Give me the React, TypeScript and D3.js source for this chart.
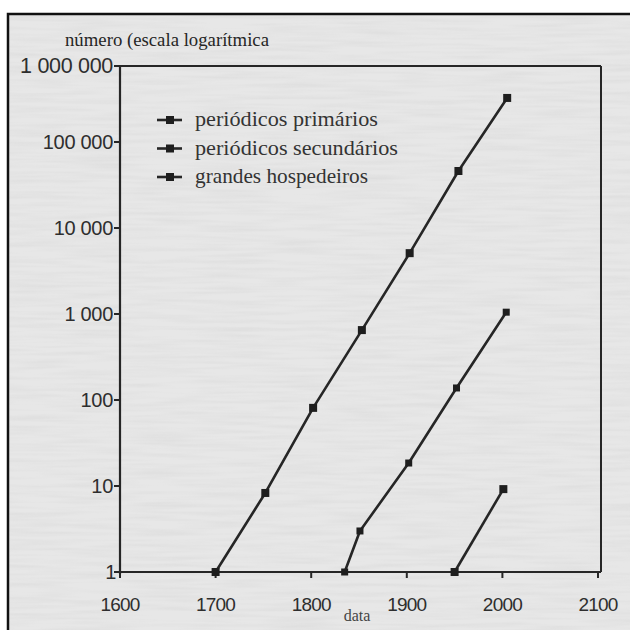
import React from "react";
import * as d3 from "d3";

const yearsPrimarios = [1700, 1752, 1802, 1853, 1903, 1954, 2005];
const primarios = [1, 8.3, 81, 650, 5100, 46000, 380000];
const yearsSecundarios = [1835, 1851, 1902, 1952, 2004];
const secundarios = [1, 3.0, 18.5, 138, 1050];
const yearsHospedeiros = [1950, 2001];
const hospedeiros = [1, 9.2];

const xTicks = [1600, 1700, 1800, 1900, 2000, 2100];
const yTickValues = [1, 10, 100, 1000, 10000, 100000, 1000000];
const yTickLabels = ["1", "10", "100", "1 000", "10 000", "100 000", "1 000 000"];
const legendLabels = ["periódicos primários", "periódicos secundários", "grandes hospedeiros"];
const legendWidths = [183, 203, 173];

const W = 630;
const H = 630;
const INK = "#262626";
const SERIF = "'Liberation Serif', 'Times New Roman', serif";
const SANS = "'Liberation Sans', Arial, sans-serif";

export default function App() {
  const x = d3.scaleLinear().domain([1600, 2100]).range([120, 598]);
  const y = d3.scaleLog().domain([1, 100000, 1000000]).range([572, 142, 66]);
  const left = x(1600);
  const right = x(2100) + 3;
  const top = y(1000000);
  const bottom = y(1);

  const line = d3
    .line<[number, number]>()
    .x((d) => x(d[0]))
    .y((d) => y(d[1]));

  const series = [
    { years: yearsPrimarios, values: primarios, size: 8 },
    { years: yearsSecundarios, values: secundarios, size: 7 },
    { years: yearsHospedeiros, values: hospedeiros, size: 8 },
  ];

  return (
    <svg
      width={W}
      height={H}
      style={{ position: "absolute", left: 0, top: 0, background: "#ffffff" }}
    >
      <defs>
        <filter id="grain" x="0" y="0" width="100%" height="100%">
          <feTurbulence type="fractalNoise" baseFrequency="0.015 0.25" numOctaves={2} seed={3} result="n" />
          <feColorMatrix
            type="matrix"
            values="0 0 0 0 0.55  0 0 0 0 0.55  0 0 0 0 0.55  0 0 0 1.2 -0.45"
          />
        </filter>
      </defs>
      <rect x={8} y={14} width={W} height={H} fill="#e7e7e7" />
      <rect x={8} y={14} width={W} height={H} filter="url(#grain)" opacity={0.35} />
      <rect x={8} y={14} width={W} height={H} fill="none" stroke="#111" strokeWidth={2.5} />

      {/* y axis label */}
      <text x={65} y={46} fontFamily={SERIF} fontSize={18} fill={INK} textLength={204} lengthAdjust="spacingAndGlyphs">
        número (escala logarítmica
      </text>

      {/* plot frame */}
      <line x1={left} x2={right} y1={top} y2={top} stroke={INK} strokeWidth={2} />
      <line x1={right} x2={right} y1={top} y2={bottom} stroke={INK} strokeWidth={2} />
      <line x1={left} x2={left} y1={top} y2={bottom + 2} stroke={INK} strokeWidth={2.2} />
      <line x1={left - 4} x2={right} y1={bottom} y2={bottom} stroke={INK} strokeWidth={2.2} />

      {/* y ticks */}
      {yTickValues.map((v, i) => (
        <g key={v}>
          <line x1={left - 6} x2={left} y1={y(v)} y2={y(v)} stroke={INK} strokeWidth={2} />
          <text
            x={v === 1 ? left - 4 : left - 7}
            y={y(v) + 7}
            textAnchor="end"
            fontFamily={SANS}
            fontSize={v === 1000000 ? 21.5 : 20}
            letterSpacing={-0.3}
            fill="#2e2e2e"
          >
            {yTickLabels[i]}
          </text>
        </g>
      ))}

      {/* x ticks */}
      {xTicks.map((t) => (
        <g key={t}>
          <line x1={x(t)} x2={x(t)} y1={bottom} y2={bottom + 6} stroke={INK} strokeWidth={2} />
          <text
            x={x(t)}
            y={bottom + 39}
            textAnchor="middle"
            fontFamily={SANS}
            fontSize={19}
            letterSpacing={-0.8}
            fill="#2e2e2e"
          >
            {t}
          </text>
        </g>
      ))}
      <text x={357} y={621} textAnchor="middle" fontFamily={SERIF} fontSize={16} fill="#444">
        data
      </text>

      {/* series */}
      {series.map((s, i) => {
        const pts: [number, number][] = s.years.map((yr, j) => [yr, s.values[j]]);
        return (
          <g key={i}>
            <path d={line(pts) || ""} fill="none" stroke={INK} strokeWidth={2.6} strokeLinejoin="round" />
            {pts.map((p, j) => (
              <rect
                key={j}
                x={x(p[0]) - s.size / 2}
                y={y(p[1]) - s.size / 2}
                width={s.size}
                height={s.size}
                fill="#1e1e1e"
              />
            ))}
          </g>
        );
      })}

      {/* legend */}
      {legendLabels.map((lab, i) => {
        const cy = 120 + i * 28.5;
        return (
          <g key={lab}>
            <line x1={157} x2={182} y1={cy} y2={cy} stroke={INK} strokeWidth={2.6} />
            <rect x={166} y={cy - 4} width={8} height={8} fill="#1e1e1e" />
            <text
              x={195}
              y={cy + 6}
              fontFamily={SERIF}
              fontSize={21}
              fill="#333"
              textLength={legendWidths[i]}
              lengthAdjust="spacingAndGlyphs"
            >
              {lab}
            </text>
          </g>
        );
      })}
    </svg>
  );
}
